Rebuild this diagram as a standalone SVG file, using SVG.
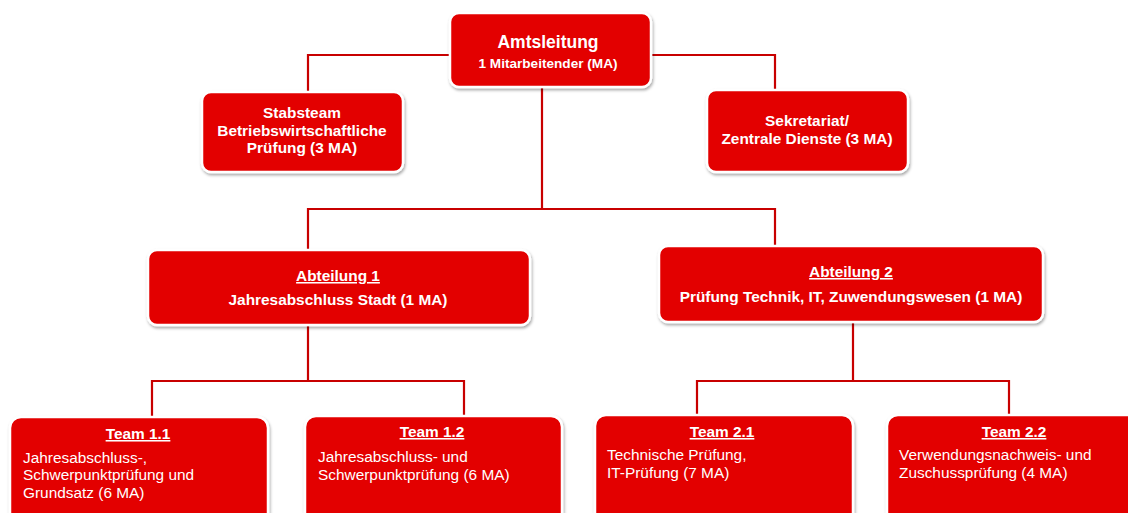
<svg xmlns="http://www.w3.org/2000/svg" width="1128" height="513" viewBox="0 0 1128 513">
<defs>
<filter id="sh" x="-10%" y="-20%" width="120%" height="150%">
<feDropShadow dx="1" dy="2" stdDeviation="1.5" flood-color="#000" flood-opacity="0.35"/>
</filter>
<style>
.box{fill:#e30000;stroke:#fff;stroke-width:2.5;filter:url(#sh)}
.c{fill:none;stroke:#c80000;stroke-width:2.2}
text{font-family:"Liberation Sans",Arial,sans-serif;fill:#fff}
.b{font-weight:bold;font-size:15.4px}
.r{font-size:15.4px}
.m{text-anchor:middle}
.u{text-decoration:underline}
</style>
</defs>
<rect width="1128" height="513" fill="#fff"/>
<g id="connectors">
<path class="c" d="M450 55H308V92M651 55H775V90"/>
<path class="c" d="M542 87V209M308 250V209H775V246"/>
<path class="c" d="M308 325V381M152 417V381H464V416"/>
<path class="c" d="M853 322V381M697 415V381H1009V415"/>
</g>
<g id="amtsleitung">
<rect class="box" x="450" y="13" width="201" height="74" rx="9"/>
<text class="m" x="548" y="48" font-weight="bold" font-size="17.5">Amtsleitung</text>
<text class="m" x="548" y="68" font-weight="bold" font-size="13.6">1 Mitarbeitender (MA)</text>
</g>
<g id="stabsteam">
<rect class="box" x="202" y="92" width="201" height="80" rx="9"/>
<text class="b m" x="302" y="118">Stabsteam</text>
<text class="b m" x="302" y="136">Betriebswirtschaftliche</text>
<text class="b m" x="302" y="153">Prüfung (3 MA)</text>
</g>
<g id="sekretariat">
<rect class="box" x="707" y="90" width="201" height="82" rx="9"/>
<text class="b m" x="807" y="126">Sekretariat/</text>
<text class="b m" x="807" y="144">Zentrale Dienste (3 MA)</text>
</g>
<g id="abteilung1">
<rect class="box" x="148" y="250" width="382" height="75" rx="9"/>
<text class="b m u" x="338" y="281">Abteilung 1</text>
<text class="b m" x="338" y="305">Jahresabschluss Stadt (1 MA)</text>
</g>
<g id="abteilung2">
<rect class="box" x="659" y="246" width="384" height="76" rx="9"/>
<text class="b m u" x="851" y="277">Abteilung 2</text>
<text class="b m" x="851" y="302">Prüfung Technik, IT, Zuwendungswesen (1 MA)</text>
</g>
<g id="team11">
<rect class="box" x="10" y="417" width="258" height="110" rx="11"/>
<text class="b m u" x="138" y="439">Team 1.1</text>
<text class="r" x="23" y="463">Jahresabschluss-,</text>
<text class="r" x="23" y="480">Schwerpunktprüfung und</text>
<text class="r" x="23" y="498">Grundsatz (6 MA)</text>
</g>
<g id="team12">
<rect class="box" x="305" y="416" width="257" height="110" rx="11"/>
<text class="b m u" x="432" y="437">Team 1.2</text>
<text class="r" x="318" y="462">Jahresabschluss- und</text>
<text class="r" x="318" y="480">Schwerpunktprüfung (6 MA)</text>
</g>
<g id="team21">
<rect class="box" x="595" y="415" width="258" height="110" rx="11"/>
<text class="b m u" x="722" y="437">Team 2.1</text>
<text class="r" x="607" y="460">Technische Prüfung,</text>
<text class="r" x="607" y="478">IT-Prüfung (7 MA)</text>
</g>
<g id="team22">
<rect class="box" x="887" y="415" width="258" height="110" rx="11"/>
<text class="b m u" x="1014" y="437">Team 2.2</text>
<text class="r" x="899" y="460">Verwendungsnachweis- und</text>
<text class="r" x="899" y="478">Zuschussprüfung (4 MA)</text>
</g>
</svg>
